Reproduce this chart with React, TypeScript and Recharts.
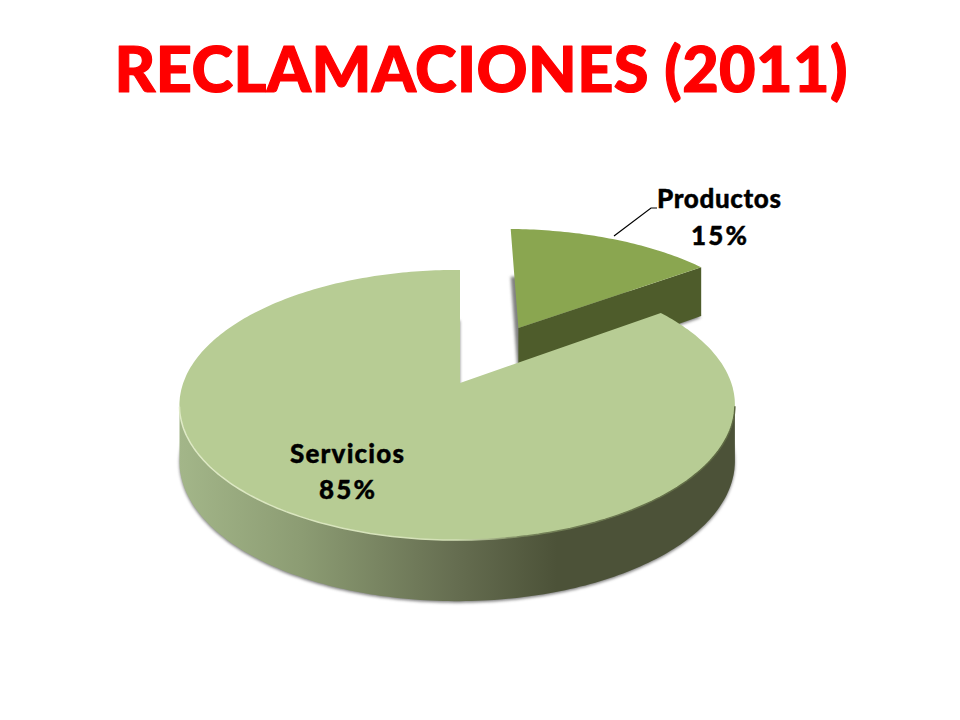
import React from 'react';
import { PieChart, Pie } from 'recharts';

const categories = ['Productos', 'Servicios'];
const shares = [15, 85];
const TITLE = 'RECLAMACIONES (2011)';

const FONT = 'Lato, "DejaVu Sans", sans-serif';
const RADIUS = 274;
const TILT = 0.48; // squash of the pie plane
const PERSPECTIVE = 0.163;
const SIDE_LEAN = 0.01;
const DEPTH = 55;

const sliceStyle: any = {
  Productos: { top: '#8aa650', cut: '#4e5c2b', wall: '#4e5c2b', explode: 0.505 },
  Servicios: { top: '#b7cc94', cut: '#4e5c2b', wall: 'url(#wallShade)', explode: 0 },
};

const labelStyle: any = {
  Productos: { x: 719, y: 208, nameW: 124, pctW: 56, gap: 37 },
  Servicios: { x: 347, y: 463, nameW: 114, pctW: 56, gap: 36 },
};

const rows = categories.map((name, i) => ({ name, value: shares[i] }));

const rad = (deg: number) => (deg * Math.PI) / 180;

// plane coordinates (radius = 1) to screen, with a simple perspective divide
const project = (cx: number, cy: number, u: number, v: number) => {
  const w = 1 - PERSPECTIVE * v + SIDE_LEAN * u;
  return [cx + (RADIUS * u) / w, cy + (RADIUS * TILT * v) / w];
};
const drop = (p: number[], v: number) => [p[0], p[1] + DEPTH * (1 + 0.11 * v)];
const toPath = (pts: number[][], close = true) =>
  pts.map((p, i) => `${i ? 'L' : 'M'}${p[0].toFixed(1)} ${p[1].toFixed(1)}`).join(' ') + (close ? ' Z' : '');

const Slab = (props: any) => {
  const { cx, cy, startAngle, endAngle, name } = props;
  const style = sliceStyle[name];
  const mid = rad((startAngle + endAngle) / 2);
  const ou = Math.cos(mid) * style.explode;
  const ov = -Math.sin(mid) * style.explode;

  const arc: { u: number; v: number }[] = [];
  const steps = Math.ceil(Math.abs(startAngle - endAngle));
  for (let i = 0; i <= steps; i++) {
    const a = rad(startAngle + ((endAngle - startAngle) * i) / steps);
    arc.push({ u: ou + Math.cos(a), v: ov - Math.sin(a) });
  }
  const topArc = arc.map((q) => project(cx, cy, q.u, q.v));
  const bottomArc = arc.map((q, i) => drop(topArc[i], q.v));
  const apex = project(cx, cy, ou, ov);
  const apexLow = drop(apex, ov);

  const front = arc.map((q, i) => ({ q, i })).filter((d) => d.q.v > PERSPECTIVE);
  const frontTop = front.map((d) => topArc[d.i]);
  const frontBottom = front.map((d) => bottomArc[d.i]);

  const last = arc.length - 1;
  return (
    <g>
      <path
        d={toPath([apexLow, ...bottomArc])}
        fill="#4a4a4a"
        fillOpacity={0.7}
        transform="translate(0 1.5)"
        style={{ filter: 'blur(1.5px)' }}
      />
      <path d={toPath([apex, topArc[last], bottomArc[last], apexLow])} fill={style.cut} />
      {front.length > 1 && <path d={toPath([...frontTop, ...frontBottom.reverse()])} fill={style.wall} />}
      <path d={toPath([apex, ...topArc])} fill={style.top} />
      {front.length > 1 && <path d={toPath(frontTop, false)} fill="none" stroke="url(#rimShade)" strokeWidth={1.5} />}
    </g>
  );
};

const SliceLabel = (props: any) => {
  const { name, percent } = props;
  const s = labelStyle[name];
  const text = {
    fontFamily: FONT,
    fontWeight: 900,
    fontSize: 26,
    fill: '#000',
    stroke: '#000',
    strokeWidth: 0.4,
    strokeLinejoin: 'round' as const,
    textAnchor: 'middle' as const,
  };
  return (
    <g>
      {name === 'Productos' && (
        <polyline points="614,236 651,208 657,208" fill="none" stroke="#000" strokeWidth={1.2} />
      )}
      <text x={s.x} y={s.y} textLength={s.nameW} {...text}>
        {name}
      </text>
      <text x={s.x} y={s.y + s.gap} textLength={s.pctW} {...text}>
        {`${Math.round(percent * 100)}%`}
      </text>
    </g>
  );
};

export default function App() {
  return (
    <div style={{ position: 'absolute', left: 0, top: 0, width: 960, height: 720 }}>
      <PieChart width={960} height={720} margin={{ top: 0, right: 0, bottom: 0, left: 0 }}>
        <defs>
          <linearGradient id="wallShade" gradientUnits="userSpaceOnUse" x1="179" y1="0" x2="735" y2="0">
            <stop offset="0" stopColor="#a3b689" />
            <stop offset="0.22" stopColor="#8c9c73" />
            <stop offset="0.5" stopColor="#656d50" />
            <stop offset="0.68" stopColor="#4c5238" />
            <stop offset="1" stopColor="#4c5238" />
          </linearGradient>
          <linearGradient id="rimShade" gradientUnits="userSpaceOnUse" x1="179" y1="0" x2="735" y2="0">
            <stop offset="0" stopColor="#dfeac6" />
            <stop offset="0.5" stopColor="#d3e0b6" />
            <stop offset="0.62" stopColor="#76835a" />
            <stop offset="1" stopColor="#5b6640" />
          </linearGradient>
        </defs>
        <text
          x={481}
          y={92}
          textAnchor="middle"
          textLength={733}
          fontFamily={FONT}
          fontWeight={900}
          fontSize={63}
          fill="#ff0000"
          stroke="#ff0000"
          strokeWidth={1.2}
          strokeLinejoin="round"
        >
          {TITLE}
        </text>
        <Pie
          data={rows}
          dataKey="value"
          nameKey="name"
          cx={460}
          cy={383}
          outerRadius={RADIUS}
          startAngle={90}
          endAngle={-270}
          paddingAngle={0}
          stroke="none"
          shape={Slab}
          label={SliceLabel}
          labelLine={false}
          isAnimationActive={false}
        />
      </PieChart>
    </div>
  );
}
